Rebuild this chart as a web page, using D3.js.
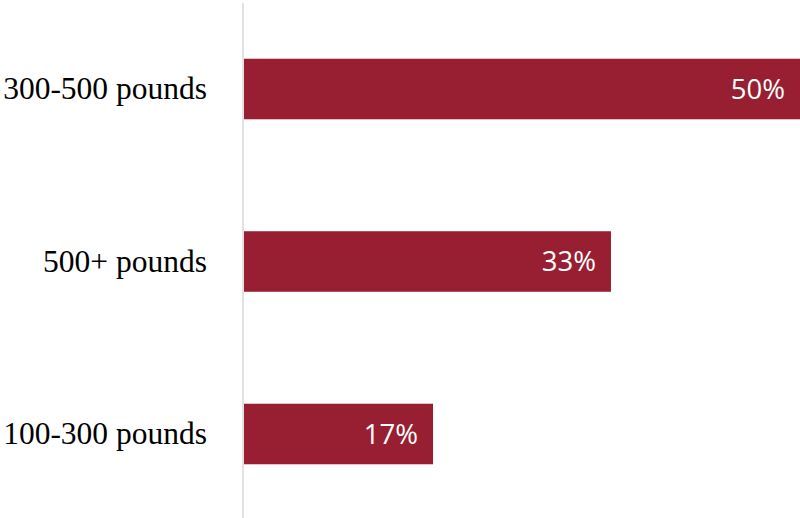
<!DOCTYPE html>
<html>
<head>
<meta charset="utf-8">
<script src="https://cdn.jsdelivr.net/npm/d3@7"></script>
<style>
  html, body { margin: 0; padding: 0; background: #fff; }
  svg { display: block; }
</style>
</head>
<body>
<svg id="chart" width="800" height="518"></svg>
<script>
// Share of responses by weight range
const categories = ["300-500 pounds", "500+ pounds", "100-300 pounds"];
const values = [50, 33, 17];
const valueLabels = ["50%", "33%", "17%"];

const width = 800, height = 518;
const svg = d3.select("#chart");

const x = d3.scaleLinear().domain([0, 50]).range([244, 800]);
const y = d3.scaleBand()
  .domain(categories)
  .range([2.75, 520.25])
  .paddingInner(0.649)
  .paddingOuter(0.3245);

// bars
svg.selectAll("rect.bar")
  .data(values)
  .join("rect")
  .attr("class", "bar")
  .attr("x", x(0))
  .attr("y", (d, i) => y(categories[i]))
  .attr("width", d => x(d) - x(0))
  .attr("height", y.bandwidth())
  .attr("fill", "#981f32");

// value labels inside bar ends
svg.selectAll("text.val")
  .data(values)
  .join("text")
  .attr("class", "val")
  .attr("x", d => x(d) - 15)
  .attr("y", (d, i) => y(categories[i]) + y.bandwidth() / 2)
  .attr("dy", "0.36em")
  .attr("text-anchor", "end")
  .attr("fill", "#fff")
  .style("font-family", "'Open Sans', sans-serif")
  .style("font-size", "27.5px")
  .text((d, i) => valueLabels[i]);

// category axis
const axis = d3.axisLeft(y).tickSize(0).tickPadding(36);
const g = svg.append("g").attr("transform", `translate(${x(0) - 1},0)`).call(axis);
g.select(".domain").remove();
g.selectAll("text")
  .attr("fill", "#000")
  .style("font-family", "'Liberation Serif', 'Times New Roman', serif")
  .style("font-size", "31.5px");

svg.append("line")
  .attr("x1", x(0) - 1).attr("x2", x(0) - 1)
  .attr("y1", 3).attr("y2", height)
  .attr("stroke", "#d9d9d9")
  .attr("stroke-width", 1.5);
</script>
</body>
</html>
